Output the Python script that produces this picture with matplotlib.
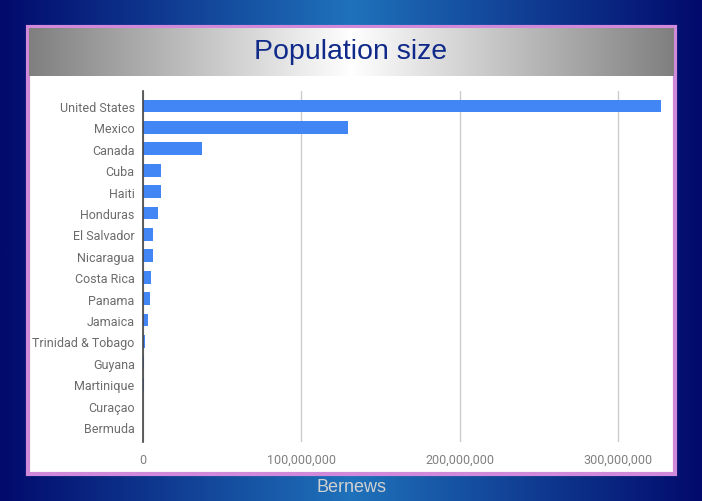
import numpy as np
import matplotlib.pyplot as plt
from matplotlib.patches import Rectangle

# data
countries = ["United States", "Mexico", "Canada", "Cuba", "Haiti", "Honduras",
             "El Salvador", "Nicaragua", "Costa Rica", "Panama", "Jamaica",
             "Trinidad & Tobago", "Guyana", "Martinique", "Curaçao", "Bermuda"]
population = [327200000, 129200000, 37100000, 11500000, 11100000, 9600000,
              6400000, 6300000, 5000000, 4200000, 2900000,
              1400000, 780000, 370000, 160000, 60000]
ticks = [0, 100000000, 200000000, 300000000]
tick_labels = ["0", "100,000,000", "200,000,000", "300,000,000"]

W, H = 702, 502
fig = plt.figure(figsize=(W / 100, H / 100), dpi=100)

# blue background, dark at the sides and lighter in the middle
bg = fig.add_axes([0, 0, 1, 1])
bg.set_axis_off()
t = np.linspace(0, 1, 400)
g = 1 - np.abs(t - 0.5) * 2
c0 = np.array([0x02, 0x0a, 0x6c]) / 255
c1 = np.array([0x1f, 0x72, 0xbb]) / 255
grad = c0[None, :] + (c1 - c0)[None, :] * g[:, None]
bg.imshow(grad[None, :, :], aspect="auto", extent=[0, W, 0, H])
bg.set_xlim(0, W)
bg.set_ylim(0, H)

# white panel with a pink border
bg.add_patch(Rectangle((27.5, H - 474.5), 647, 447, facecolor="white",
                       edgecolor="#d18ad9", linewidth=3, zorder=2))

# grey title banner
tb = np.linspace(0, 1, 400)
gb = 0.5 + 0.5 * (1 - np.abs(tb - 0.5) * 2)
banner = np.stack([gb, gb, gb], axis=1)
bg.imshow(banner[None, :, :], aspect="auto", extent=[29, 674, H - 77, H - 29], zorder=3)
bg.text(351, H - 52, "Population size", ha="center", va="center",
        fontsize=20.5, color="#102a8a", family="Liberation Sans", zorder=4)

bg.text(351, H - 488, "Bernews", ha="center", va="center",
        fontsize=13, color="#d0d0d0", family="Liberation Sans", zorder=4)

# the bar chart
x0, x1 = 143, 143 + 3.3 * 158.3
y_top, y_bot = 92, 443
ax = fig.add_axes([x0 / W, (H - y_bot) / H, (x1 - x0) / W, (y_bot - y_top) / H])
ax.set_facecolor("none")
y = np.arange(len(countries))
ax.barh(y, population, height=0.6, color="#4285f4", zorder=3)
ax.set_xlim(0, 330000000)
ax.set_ylim(len(countries) - 0.3, -0.7)
ax.set_yticks(y)
ax.set_yticklabels(countries, family="Roboto", fontsize=9, color="#6b6b6b")
ax.set_xticks(ticks)
ax.set_xticklabels(tick_labels, family="Roboto", fontsize=9, color="#808080")
ax.tick_params(length=0, pad=6)
ax.tick_params(axis="x", pad=8)
ax.grid(axis="x", color="#cccccc", linewidth=1, zorder=0)
for s in ["top", "right", "bottom"]:
    ax.spines[s].set_visible(False)
ax.spines["left"].set_color("#444444")
ax.spines["left"].set_linewidth(1.2)
ax.spines["left"].set_zorder(4)

fig.savefig("out.png", dpi=100)
